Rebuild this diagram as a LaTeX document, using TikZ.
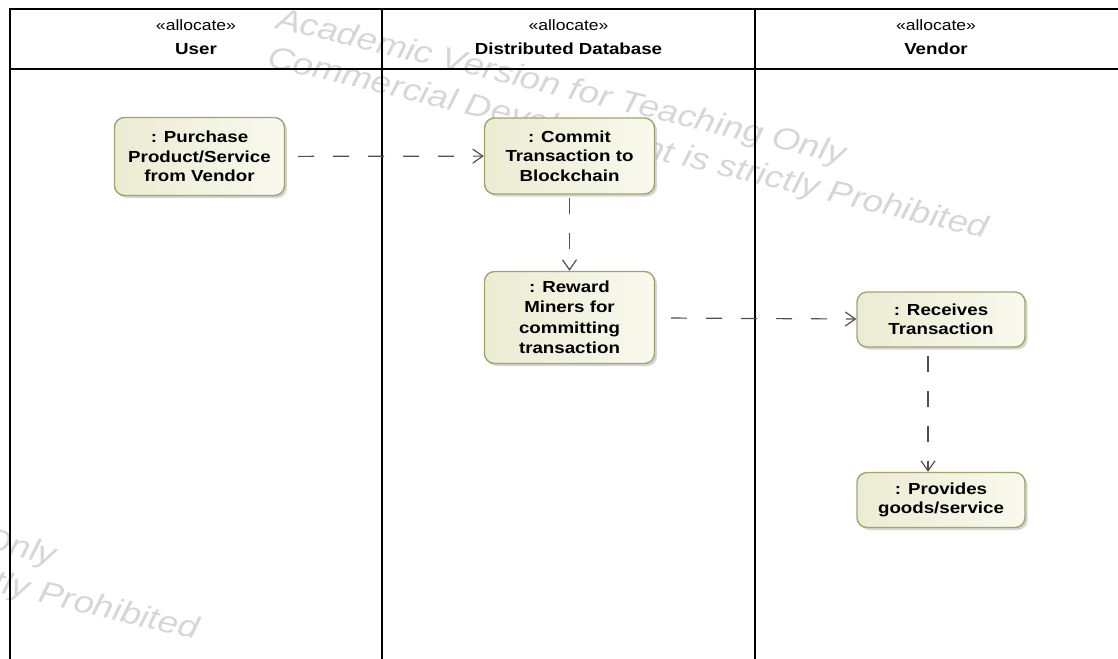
\documentclass[tikz,border=0pt]{standalone}
\usepackage{fontspec}
\setmainfont{Liberation Sans}[FakeStretch=1.17]
\usetikzlibrary{arrows.meta,shadows}
\definecolor{actborder}{HTML}{A3A36B}
\definecolor{actleft}{HTML}{ECEBD3}
\definecolor{actright}{HTML}{F9F9EE}
\definecolor{flowgray}{HTML}{505050}
\definecolor{wmgray}{HTML}{D6D6D6}
\begin{document}
\begin{tikzpicture}[x=1pt,y=-1pt,
  lane/.style={line width=2.6pt, draw=black},
  action/.style={draw=actborder, line width=1.4pt, rounded corners=10pt,
    left color=actleft, right color=actright, minimum width=170pt,
    align=center, inner sep=2pt,
    font=\fontsize{16}{19.5}\selectfont\bfseries,
    drop shadow={shadow xshift=2.5pt, shadow yshift=-2.5pt, fill=black!30, opacity=0.55}},
  flow/.style={draw=flowgray, line width=1.2pt, dash pattern=on 16pt off 19pt,
    -{Straight Barb[length=10pt,width=14pt]}},
  stereo/.style={font=\fontsize{15}{18}\selectfont, anchor=base, inner sep=0pt},
  lanename/.style={font=\fontsize{16}{19}\selectfont\bfseries, anchor=base, inner sep=0pt},
  wmtext/.style={text=wmgray, rotate=-13.5, anchor=base west, inner sep=0pt,
    font=\fontsize{31}{38}\selectfont\itshape}
]
\useasboundingbox (0,0) rectangle (1118,658);
\clip (0,0) rectangle (1118,658);

% watermark, tiled
\node[wmtext] (wmA1) at (275,28) {Academic Version for Teaching Only};
\node[wmtext] (wmB1) at (265.9,66) {Commercial Development is strictly Prohibited};
\node[wmtext] (wmA2) at (-514.4,429) {Academic Version for Teaching Only};
\node[wmtext] (wmB2) at (-523.5,467) {Commercial Development is strictly Prohibited};

% swimlane frame
\draw[lane] (10,700) -- (10,9) -- (1140,9);
\draw[lane] (10,69) -- (1140,69);
\draw[lane] (382,9) -- (382,700);
\draw[lane] (755,9) -- (755,700);

% lane headers
\node[stereo] (stUser) at (196,31) {«allocate»};
\node[lanename] (lnUser) at (196,55) {User};
\node[stereo] (stDb) at (568.5,31) {«allocate»};
\node[lanename] (lnDb) at (568.5,55) {Distributed Database};
\node[stereo] (stVendor) at (936,31) {«allocate»};
\node[lanename] (lnVendor) at (936,55) {Vendor};

% actions
\node[action, minimum height=78pt] (purchase) at (199.5,156.5) {: Purchase\\Product/Service\\from Vendor};
\node[action, minimum height=76pt] (commit) at (569.5,156) {: Commit\\Transaction to\\Blockchain};
\node[action, minimum height=92pt, font=\fontsize{16}{20.5}\selectfont\bfseries] (reward) at (569.5,317.5) {: Reward\\Miners for\\committing\\transaction};
\node[action, minimum width=168pt, minimum height=55pt] (receives) at (941,319.5) {: Receives\\Transaction};
\node[action, minimum width=168pt, minimum height=55pt] (provides) at (941,500) {: Provides\\goods/service};

% object flows
\draw[flow, shorten <=13pt] (purchase) -- (commit);
\draw[flow, shorten <=3pt] (commit) -- (reward);
\draw[flow, shorten <=16pt] (reward) -- (receives);
\draw[flow, shorten <=8pt] ([xshift=-13pt]receives.south) -- ([xshift=-13pt]provides.north);
\end{tikzpicture}
\end{document}
